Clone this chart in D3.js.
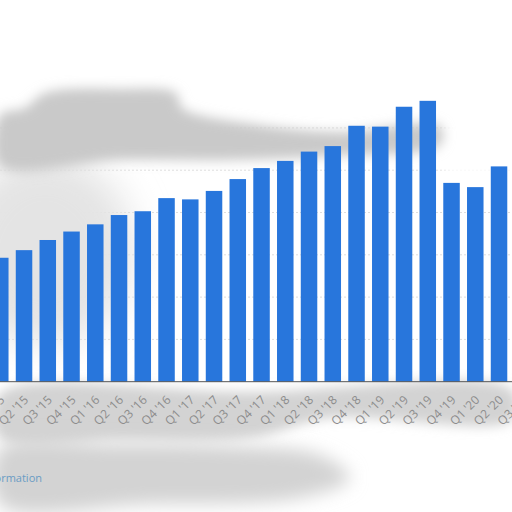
<!DOCTYPE html>
<html>
<head>
<meta charset="utf-8">
<script src="https://cdn.jsdelivr.net/npm/d3@7"></script>
<style>
  html, body { margin: 0; padding: 0; background: #fff; }
  svg { display: block; font-family: 'Open Sans', sans-serif; }
</style>
</head>
<body>
<div class="chart"></div>
<script>
// Quarters shown on the x axis
const quarters = [
  "Q1 '15", "Q2 '15", "Q3 '15", "Q4 '15",
  "Q1 '16", "Q2 '16", "Q3 '16", "Q4 '16",
  "Q1 '17", "Q2 '17", "Q3 '17", "Q4 '17",
  "Q1 '18", "Q2 '18", "Q3 '18", "Q4 '18",
  "Q1 '19", "Q2 '19", "Q3 '19", "Q4 '19",
  "Q1 '20", "Q2 '20", "Q3 '20"
]

// Values per quarter (y axis is cropped off, units in gridline steps)
const values = [
  2.93, 3.11, 3.35, 3.55,
  3.72, 3.94, 4.03, 4.34,
  4.31, 4.51, 4.79, 5.05,
  5.22, 5.44, 5.57, 6.05,
  6.03, 6.50, 6.64, 4.70,
  4.60, 5.09, 5.30
]

// Gridline values
const gridTicks = [1, 2, 3, 4, 5, 6]

const data = quarters.map((q, i) => ({ quarter: q, value: values[i] }))

;(function () {
  const width = 512
  const height = 512
  const baseY = 381.7
  const unit = 42.3

  const svg = d3.select('.chart').append('svg')
    .attr('width', width)
    .attr('height', height)

  // blur filters for the washed-out background
  const defs = svg.append('defs')
  const addBlur = (id, sd) => defs.append('filter')
    .attr('id', id)
    .attr('x', '-50%').attr('y', '-50%')
    .attr('width', '200%').attr('height', '200%')
    .append('feGaussianBlur')
    .attr('stdDeviation', sd)
  addBlur('blurS', 6)
  addBlur('blurM', 9)
  addBlur('blurL', 18)

  const x = d3.scaleBand()
    .domain(quarters)
    .range([-11.6, -11.6 + quarters.length * 23.75])
    .paddingInner(0.305)
    .paddingOuter(0.1525)

  const y = d3.scaleLinear()
    .domain([0, 7])
    .range([baseY, baseY - 7 * unit])

  // gridlines
  svg.append('g')
    .selectAll('line')
    .data(gridTicks)
    .enter().append('line')
    .attr('x1', 0)
    .attr('x2', width)
    .attr('y1', d => y(d))
    .attr('y2', d => y(d))
    .attr('stroke', '#dedede')
    .attr('stroke-width', 1)
    .attr('stroke-dasharray', '2,2')

  const line = d3.line().curve(d3.curveCatmullRomClosed)
  const smudge = svg.append('g')
  smudge.append('rect')
    .attr('x', 445).attr('y', 40).attr('width', 90).attr('height', 135)
    .attr('fill', '#fff').attr('filter', 'url(#blurS)')
  smudge.append('ellipse')
    .attr('cx', 45).attr('cy', 250).attr('rx', 90).attr('ry', 95)
    .attr('fill', '#e4e4e4').attr('filter', 'url(#blurL)')
  smudge.append('path')
    .attr('d', line([[45, 93], [120, 89], [176, 93], [182, 108], [260, 125], [340, 132], [440, 126], [440, 145], [330, 156], [230, 160], [120, 160], [0, 166], [0, 115], [25, 108]]))
    .attr('fill', '#c9c9c9').attr('filter', 'url(#blurS)')
  smudge.append('path')
    .attr('d', line([[0, 394], [250, 392], [512, 390], [512, 420], [330, 418], [250, 438], [120, 440], [0, 438]]))
    .attr('fill', '#d3d3d3').attr('filter', 'url(#blurS)')
  smudge.append('path')
    .attr('d', line([[0, 448], [120, 444], [230, 446], [320, 455], [350, 478], [300, 498], [150, 504], [0, 505]]))
    .attr('fill', '#d3d3d3').attr('filter', 'url(#blurM)')

  // bars
  svg.append('g')
    .selectAll('rect')
    .data(data)
    .enter().append('rect')
    .attr('x', d => x(d.quarter))
    .attr('y', d => y(d.value))
    .attr('width', x.bandwidth())
    .attr('height', d => baseY - y(d.value))
    .attr('fill', '#2876dc')

  // x axis
  const xAxis = d3.axisBottom(x).tickSize(0).tickPadding(0)
  const gx = svg.append('g')
    .attr('transform', 'translate(0,' + baseY + ')')
    .call(xAxis)
  gx.select('.domain')
    .attr('d', 'M0,0H' + width)
    .attr('stroke', '#555')
    .attr('stroke-width', 1)
  gx.selectAll('text')
    .attr('fill', '#8c8c8c')
    .style('font-size', '12px')
    .style('font-family', "'Open Sans', sans-serif")
    .attr('text-anchor', 'end')
    .attr('dy', 0)
    .attr('transform', 'translate(5,19) rotate(-45)')

  // footer link
  svg.append('text')
    .attr('x', 42)
    .attr('y', 482)
    .attr('text-anchor', 'end')
    .attr('fill', '#6a9cc4')
    .style('font-size', '11px')
    .text('Additional Information')
}())
</script>
</body>
</html>
